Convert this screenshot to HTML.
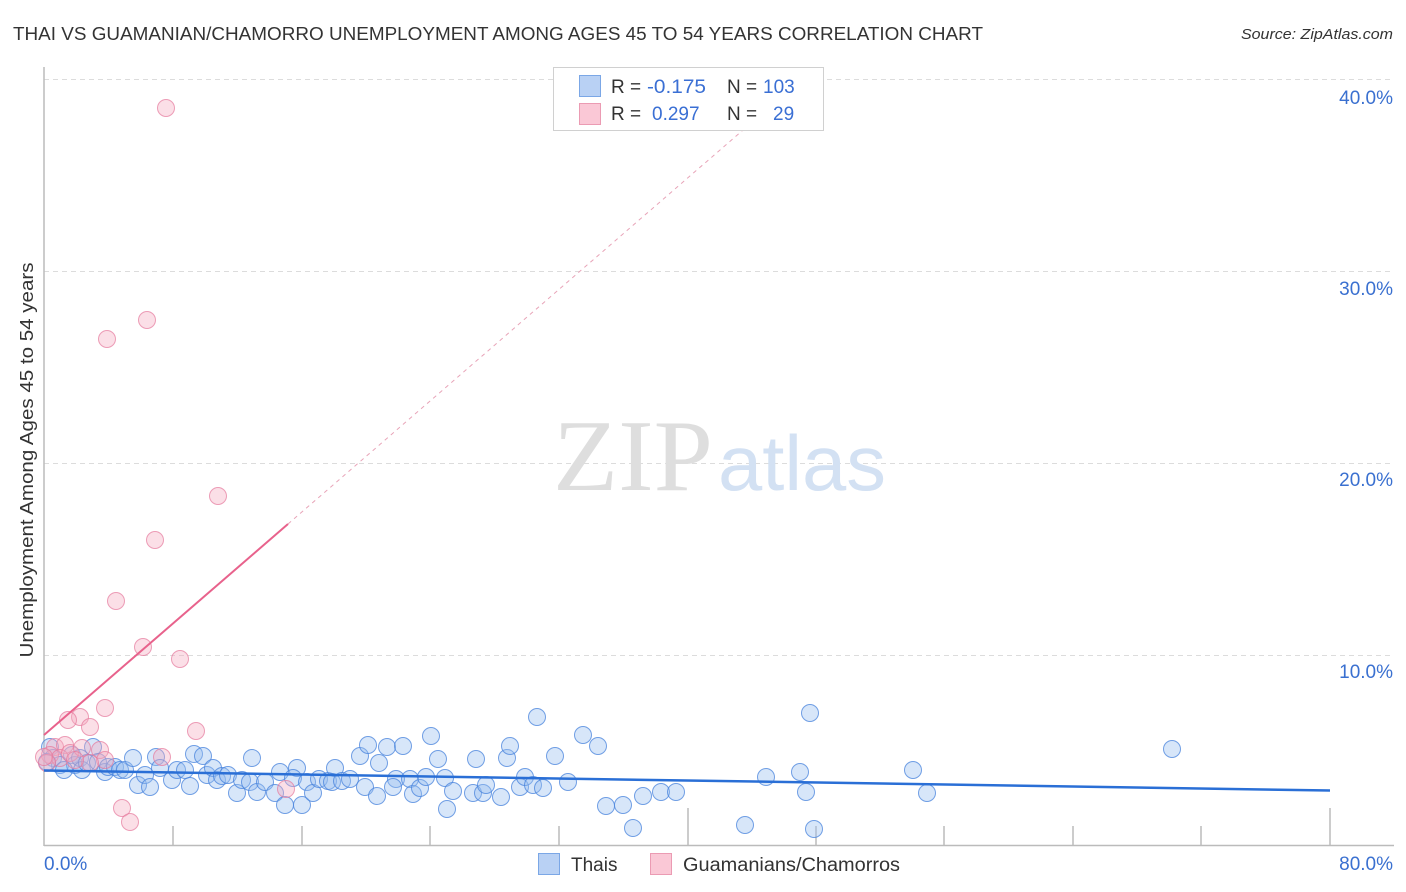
<!DOCTYPE html>
<html><head><meta charset="utf-8"><style>
html,body{margin:0;padding:0;background:#fff;}
svg{display:block;}
</style></head><body>
<svg width="1406" height="892" viewBox="0 0 1406 892" xmlns="http://www.w3.org/2000/svg" font-family="'Liberation Sans', sans-serif">
<rect width="1406" height="892" fill="#fff"/>
<text x="13" y="40" font-size="18.5" fill="#333" textLength="970" lengthAdjust="spacingAndGlyphs">THAI VS GUAMANIAN/CHAMORRO UNEMPLOYMENT AMONG AGES 45 TO 54 YEARS CORRELATION CHART</text>
<text x="1393" y="39" font-size="15" fill="#333" font-style="italic" text-anchor="end" textLength="152" lengthAdjust="spacingAndGlyphs">Source: ZipAtlas.com</text>

<g stroke="#dcdcdc" stroke-width="1" stroke-dasharray="5,4">
<line x1="44" y1="79.5" x2="1393" y2="79.5"/>
<line x1="44" y1="271.5" x2="1393" y2="271.5"/>
<line x1="44" y1="463.5" x2="1393" y2="463.5"/>
<line x1="44" y1="655.5" x2="1393" y2="655.5"/>
</g>

<text x="553" y="490" font-size="102" fill="#dedede" font-family="'Liberation Serif', serif" textLength="160" lengthAdjust="spacingAndGlyphs">ZIP</text>
<text x="718" y="490" font-size="78" fill="#d3e1f3" textLength="168" lengthAdjust="spacingAndGlyphs">atlas</text>

<g stroke="#bbb" stroke-width="1.5">
<line x1="44" y1="67" x2="44" y2="846"/>
<line x1="44" y1="845.5" x2="1394" y2="845.5"/>
<line x1="173" y1="826" x2="173" y2="845"/>
<line x1="302" y1="826" x2="302" y2="845"/>
<line x1="430" y1="826" x2="430" y2="845"/>
<line x1="559" y1="826" x2="559" y2="845"/>
<line x1="688" y1="808" x2="688" y2="845"/>
<line x1="816" y1="826" x2="816" y2="845"/>
<line x1="944" y1="826" x2="944" y2="845"/>
<line x1="1073" y1="826" x2="1073" y2="845"/>
<line x1="1201" y1="826" x2="1201" y2="845"/>
<line x1="1330" y1="808" x2="1330" y2="845"/>
</g>

<g font-size="19" fill="#3a70d0" text-anchor="end">
<text x="1393" y="104">40.0%</text>
<text x="1393" y="295">30.0%</text>
<text x="1393" y="486">20.0%</text>
<text x="1393" y="678">10.0%</text>
<text x="1393" y="870">80.0%</text>
</g>
<text x="44" y="870" font-size="19" fill="#3a70d0">0.0%</text>

<text transform="translate(33,460) rotate(-90)" font-size="18" fill="#333" text-anchor="middle" textLength="395" lengthAdjust="spacingAndGlyphs">Unemployment Among Ages 45 to 54 years</text>

<line x1="288" y1="524" x2="802" y2="79" stroke="#e8a4b8" stroke-width="1" stroke-dasharray="4,4"/>

<g fill="rgba(150,188,238,0.38)" stroke="rgba(70,130,220,0.75)" stroke-width="1">
<circle cx="50" cy="747" r="8.5"/><circle cx="53" cy="758" r="8.5"/><circle cx="60" cy="765" r="8.5"/><circle cx="47" cy="762" r="8.5"/><circle cx="72" cy="755" r="8.5"/><circle cx="75" cy="765" r="8.5"/><circle cx="80" cy="758" r="8.5"/><circle cx="82" cy="770" r="8.5"/><circle cx="87" cy="763" r="8.5"/><circle cx="93" cy="747" r="8.5"/><circle cx="98" cy="762" r="8.5"/><circle cx="105" cy="772" r="8.5"/><circle cx="108" cy="767" r="8.5"/><circle cx="115" cy="767" r="8.5"/><circle cx="120" cy="770" r="8.5"/><circle cx="125" cy="770" r="8.5"/><circle cx="133" cy="758" r="8.5"/><circle cx="138" cy="785" r="8.5"/><circle cx="145" cy="775" r="8.5"/><circle cx="150" cy="787" r="8.5"/><circle cx="156" cy="757" r="8.5"/><circle cx="160" cy="768" r="8.5"/><circle cx="172" cy="780" r="8.5"/><circle cx="177" cy="770" r="8.5"/><circle cx="185" cy="770" r="8.5"/><circle cx="190" cy="786" r="8.5"/><circle cx="194" cy="754" r="8.5"/><circle cx="203" cy="756" r="8.5"/><circle cx="207" cy="775" r="8.5"/><circle cx="213" cy="768" r="8.5"/><circle cx="217" cy="780" r="8.5"/><circle cx="222" cy="776" r="8.5"/><circle cx="228" cy="775" r="8.5"/><circle cx="237" cy="793" r="8.5"/><circle cx="242" cy="780" r="8.5"/><circle cx="252" cy="758" r="8.5"/><circle cx="250" cy="782" r="8.5"/><circle cx="257" cy="792" r="8.5"/><circle cx="265" cy="782" r="8.5"/><circle cx="275" cy="793" r="8.5"/><circle cx="280" cy="772" r="8.5"/><circle cx="285" cy="805" r="8.5"/><circle cx="297" cy="768" r="8.5"/><circle cx="293" cy="778" r="8.5"/><circle cx="302" cy="805" r="8.5"/><circle cx="307" cy="782" r="8.5"/><circle cx="64" cy="770" r="8.5"/>
<circle cx="313" cy="793" r="8.5"/><circle cx="319" cy="779" r="8.5"/><circle cx="328" cy="781" r="8.5"/><circle cx="335" cy="768" r="8.5"/><circle cx="332" cy="782" r="8.5"/><circle cx="342" cy="781" r="8.5"/><circle cx="350" cy="779" r="8.5"/><circle cx="360" cy="756" r="8.5"/><circle cx="368" cy="745" r="8.5"/><circle cx="365" cy="787" r="8.5"/><circle cx="377" cy="796" r="8.5"/><circle cx="379" cy="763" r="8.5"/><circle cx="387" cy="747" r="8.5"/><circle cx="396" cy="779" r="8.5"/><circle cx="393" cy="787" r="8.5"/><circle cx="403" cy="746" r="8.5"/><circle cx="410" cy="779" r="8.5"/><circle cx="413" cy="794" r="8.5"/><circle cx="420" cy="788" r="8.5"/><circle cx="426" cy="777" r="8.5"/><circle cx="431" cy="736" r="8.5"/><circle cx="438" cy="759" r="8.5"/><circle cx="445" cy="778" r="8.5"/><circle cx="453" cy="791" r="8.5"/><circle cx="447" cy="809" r="8.5"/><circle cx="473" cy="793" r="8.5"/><circle cx="476" cy="759" r="8.5"/><circle cx="483" cy="793" r="8.5"/><circle cx="486" cy="785" r="8.5"/><circle cx="501" cy="797" r="8.5"/><circle cx="507" cy="758" r="8.5"/><circle cx="510" cy="746" r="8.5"/><circle cx="520" cy="787" r="8.5"/><circle cx="525" cy="777" r="8.5"/><circle cx="533" cy="785" r="8.5"/><circle cx="537" cy="717" r="8.5"/><circle cx="543" cy="788" r="8.5"/><circle cx="555" cy="756" r="8.5"/><circle cx="568" cy="782" r="8.5"/><circle cx="583" cy="735" r="8.5"/><circle cx="598" cy="746" r="8.5"/><circle cx="606" cy="806" r="8.5"/><circle cx="623" cy="805" r="8.5"/><circle cx="633" cy="828" r="8.5"/><circle cx="643" cy="796" r="8.5"/>
<circle cx="661" cy="792" r="8.5"/><circle cx="676" cy="792" r="8.5"/><circle cx="745" cy="825" r="8.5"/><circle cx="766" cy="777" r="8.5"/><circle cx="800" cy="772" r="8.5"/><circle cx="806" cy="792" r="8.5"/><circle cx="810" cy="713" r="8.5"/><circle cx="814" cy="829" r="8.5"/><circle cx="913" cy="770" r="8.5"/><circle cx="927" cy="793" r="8.5"/><circle cx="1172" cy="749" r="8.5"/>
</g>

<g fill="rgba(245,170,192,0.38)" stroke="rgba(230,120,155,0.7)" stroke-width="1">
<circle cx="166" cy="108" r="8.5"/><circle cx="147" cy="320" r="8.5"/><circle cx="107" cy="339" r="8.5"/><circle cx="218" cy="496" r="8.5"/><circle cx="155" cy="540" r="8.5"/><circle cx="116" cy="601" r="8.5"/><circle cx="143" cy="647" r="8.5"/><circle cx="180" cy="659" r="8.5"/><circle cx="105" cy="708" r="8.5"/><circle cx="80" cy="717" r="8.5"/><circle cx="68" cy="720" r="8.5"/><circle cx="90" cy="727" r="8.5"/><circle cx="196" cy="731" r="8.5"/><circle cx="162" cy="757" r="8.5"/><circle cx="286" cy="789" r="8.5"/><circle cx="122" cy="808" r="8.5"/><circle cx="130" cy="822" r="8.5"/><circle cx="55" cy="747" r="8.5"/><circle cx="65" cy="745" r="8.5"/><circle cx="50" cy="755" r="8.5"/><circle cx="60" cy="758" r="8.5"/><circle cx="70" cy="753" r="8.5"/><circle cx="82" cy="748" r="8.5"/><circle cx="100" cy="750" r="8.5"/><circle cx="105" cy="760" r="8.5"/><circle cx="90" cy="763" r="8.5"/><circle cx="47" cy="763" r="8.5"/><circle cx="44" cy="757" r="8.5"/><circle cx="75" cy="760" r="8.5"/>
</g>

<line x1="44" y1="770.5" x2="1330" y2="790.5" stroke="#2a6fd6" stroke-width="2.5"/>
<line x1="44" y1="735" x2="288" y2="524" stroke="#e8628c" stroke-width="2"/>

<rect x="553.5" y="67.5" width="270" height="63" fill="#fff" stroke="#d0d0d0" stroke-width="1"/>
<rect x="579.5" y="75.5" width="21" height="21" fill="#b9d1f4" stroke="#7ba7e6" stroke-width="1"/>
<rect x="579.5" y="103.5" width="21" height="21" fill="#fac8d6" stroke="#eb9bb3" stroke-width="1"/>
<g font-size="19">
<text x="611" y="93" fill="#333">R =</text>
<text x="647" y="93" fill="#3a6fd4" textLength="59" lengthAdjust="spacingAndGlyphs">-0.175</text>
<text x="727" y="93" fill="#333">N =</text>
<text x="763" y="93" fill="#3a6fd4">103</text>
<text x="611" y="120" fill="#333">R =</text>
<text x="652" y="120" fill="#3a6fd4">0.297</text>
<text x="727" y="120" fill="#333">N =</text>
<text x="773" y="120" fill="#3a6fd4">29</text>
</g>

<rect x="538.5" y="853.5" width="21" height="21" fill="#b9d1f4" stroke="#7ba7e6" stroke-width="1"/>
<text x="571" y="871" font-size="19" fill="#333">Thais</text>
<rect x="650.5" y="853.5" width="21" height="21" fill="#fac8d6" stroke="#eb9bb3" stroke-width="1"/>
<text x="683" y="871" font-size="19" fill="#333" textLength="217" lengthAdjust="spacingAndGlyphs">Guamanians/Chamorros</text>
</svg>
</body></html>
